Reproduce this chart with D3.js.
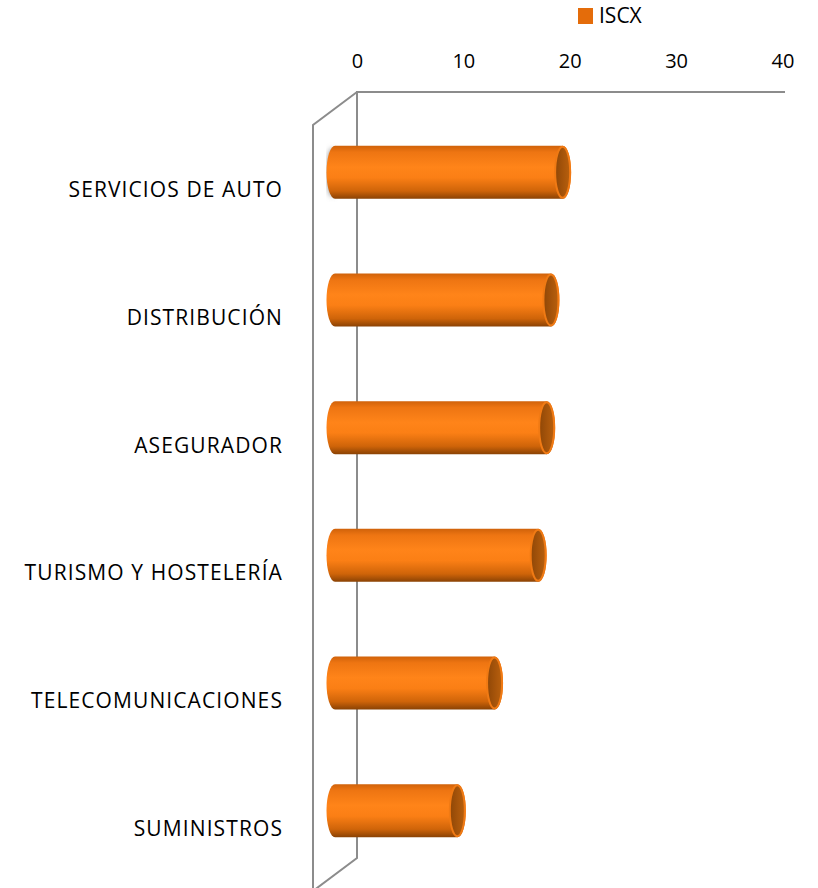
<!DOCTYPE html>
<html><head><meta charset="utf-8">
<script src="https://cdn.jsdelivr.net/npm/d3@7"></script>
<style>body{margin:0;background:#fff}svg{display:block}text{font-family:"Open Sans",sans-serif;fill:#000}</style>
</head><body><svg id="c" width="818" height="888"></svg>
<script>
const categories = ["SERVICIOS DE AUTO","DISTRIBUCIÓN","ASEGURADOR","TURISMO Y HOSTELERÍA","TELECOMUNICACIONES","SUMINISTROS"];
const values = [21.4, 20.3, 19.9, 19.1, 15.0, 11.5];
const ticks = [0, 10, 20, 30, 40];
const seriesName = "ISCX";

const svg = d3.select("#c");
const back = {x0: 357, x1: 785, y0: 92, y1: 858};
const depth = {dx: -44, dy: 33};
const x = d3.scaleLinear().domain([0, 40]).range([357, 782.5]);
const y = d3.scaleBand().domain(categories).range([back.y0, back.y1]);

const defs = svg.append("defs");
const g = defs.append("linearGradient").attr("id","cyl").attr("x1",0).attr("y1",0).attr("x2",0).attr("y2",1);
[[0,"#d0620a"],[0.12,"#ee7512"],[0.4,"#ff8419"],[0.6,"#fb7f15"],[0.85,"#cf6409"],[1,"#8a4204"]]
  .forEach(([o,c]) => g.append("stop").attr("offset",o).attr("stop-color",c));
const cg = defs.append("linearGradient").attr("id","cap").attr("x1",0).attr("y1",0).attr("x2",1).attr("y2",0);
[[0,"#8f4707"],[0.6,"#a9560b"],[1,"#b8600e"]].forEach(([o,c]) => cg.append("stop").attr("offset",o).attr("stop-color",c));
defs.append("filter").attr("id","blur").append("feGaussianBlur").attr("stdDeviation",2.5);

// walls
const wall = "#8c8c8c";
svg.append("path").attr("fill","none").attr("stroke",wall).attr("stroke-width",2)
  .attr("d", `M${back.x1},${back.y0}H${back.x0}V${back.y1}L${back.x0+depth.dx},${back.y1+depth.dy}V${back.y0+depth.dy}L${back.x0},${back.y0}`);

// axis (top)
const ax = svg.append("g").attr("transform", `translate(0,${back.y0})`)
  .call(d3.axisTop(x).tickValues(ticks).tickSize(0).tickPadding(24));
ax.select(".domain").remove();
ax.selectAll("text").style("font-family","'Open Sans',sans-serif").style("font-size","20px").attr("fill","#000");

// bars
const bh = 53, rx = 8.5, ry = bh/2;
const mid = {dx: depth.dx/2, dy: depth.dy/2};
const bars = svg.append("g");
categories.forEach((c, i) => {
  const cy = y(c) + y.bandwidth()/2 + mid.dy;
  const xa = x(0) + mid.dx, xb = x(values[i]) + mid.dx;
  const top = cy - ry, bot = cy + ry;
  if (i === 0) {
    bars.append("ellipse").attr("cx", xa - 3).attr("cy", cy).attr("rx", 5).attr("ry", ry - 2)
      .attr("fill","#9a9a9a").attr("filter","url(#blur)");
  }
  bars.append("path").attr("fill","url(#cyl)")
    .attr("d", `M${xa},${top}L${xb},${top}A${rx},${ry} 0 0 1 ${xb},${bot}L${xa},${bot}A${rx},${ry} 0 0 1 ${xa},${top}Z`);
  bars.append("ellipse").attr("cx", xb).attr("cy", cy).attr("rx", rx - 1).attr("ry", ry - 1)
    .attr("fill","url(#cap)").attr("stroke","#f07a14").attr("stroke-width",2);
});

// category labels
svg.append("g").selectAll("text").data(categories).join("text")
  .attr("x", 283).attr("y", d => y(d) + y.bandwidth()/2 + depth.dy + 3)
  .attr("text-anchor","end").attr("dominant-baseline","middle")
  .style("font-size","21px").style("letter-spacing","1.1px").text(d => d);

// legend
const lg = svg.append("g").attr("transform","translate(578,8)");
lg.append("rect").attr("width",15).attr("height",16).attr("fill","#e46c0a");
lg.append("text").attr("x",21).attr("y",9).attr("dominant-baseline","middle")
  .style("font-size","21px").text(seriesName);
</script></body></html>
